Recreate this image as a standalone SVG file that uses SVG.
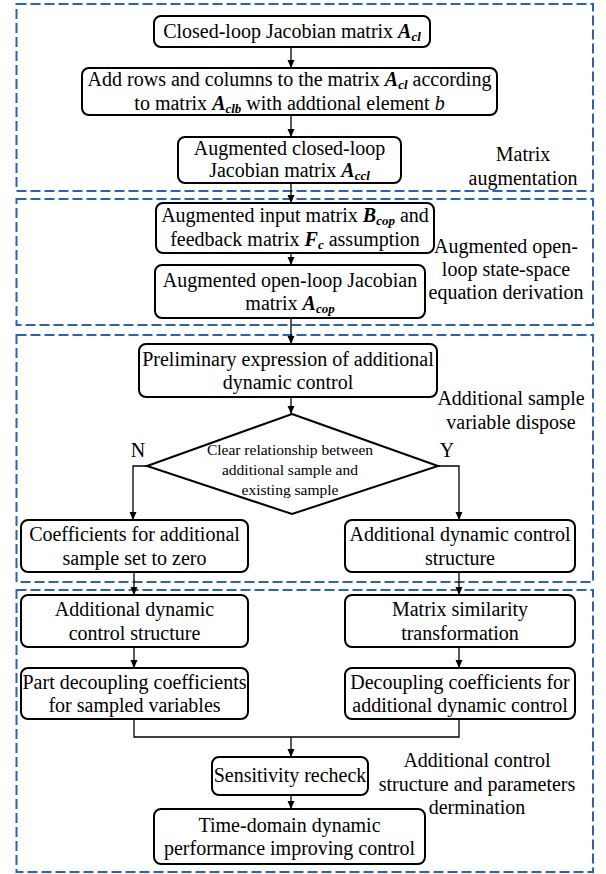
<svg xmlns="http://www.w3.org/2000/svg" width="606" height="874" viewBox="0 0 606 874">
<style>
.grp{fill:none;stroke:#2B62B8;stroke-width:2;stroke-dasharray:10 4}
.nd{fill:#fff;stroke:#000;stroke-width:2}
.t{font-family:"Liberation Serif","Times New Roman",serif;font-size:20px;fill:#000;text-anchor:middle}
.s{font-size:15.5px}
.m{font-weight:bold;font-style:italic}
.sb{font-size:13px;font-style:italic;font-weight:bold}
.c{fill:none;stroke:#000;stroke-width:1.3}
</style>
<defs>
<marker id="ar" markerWidth="8" markerHeight="10" refX="8" refY="5" orient="auto" markerUnits="userSpaceOnUse">
<path d="M0,1.5 L8,5 L0,8.5 Z" fill="#000"/>
</marker>
</defs>
<rect fill="#fff" x="0" y="0" width="606" height="874"/>
<g id="groups">
<rect class="grp" x="16.5" y="4" width="576.5" height="187"/>
<rect class="grp" x="16.5" y="199" width="576.5" height="126"/>
<rect class="grp" x="16.5" y="335" width="576.5" height="247"/>
<rect class="grp" x="16.5" y="590" width="576.5" height="282"/>
</g>
<g id="connectors">
<line class="c" x1="291" y1="47" x2="291" y2="68" marker-end="url(#ar)"/>
<line class="c" x1="291" y1="115" x2="291" y2="137" marker-end="url(#ar)"/>
<line class="c" x1="291" y1="183" x2="291" y2="203" marker-end="url(#ar)"/>
<line class="c" x1="291" y1="253" x2="291" y2="265" marker-end="url(#ar)"/>
<line class="c" x1="291" y1="318" x2="291" y2="344" marker-end="url(#ar)"/>
<line class="c" x1="291" y1="397" x2="291" y2="414" marker-end="url(#ar)"/>
<polyline class="c" points="147,466 133,466 133,520" marker-end="url(#ar)"/>
<polyline class="c" points="438,466 459,466 459,520" marker-end="url(#ar)"/>
<line class="c" x1="134" y1="572" x2="134" y2="595" marker-end="url(#ar)"/>
<line class="c" x1="459" y1="572" x2="459" y2="595" marker-end="url(#ar)"/>
<line class="c" x1="134" y1="647" x2="134" y2="668" marker-end="url(#ar)"/>
<line class="c" x1="459" y1="647" x2="459" y2="668" marker-end="url(#ar)"/>
<polyline class="c" points="134,719 134,737 459,737 459,719"/>
<line class="c" x1="291" y1="737" x2="291" y2="757" marker-end="url(#ar)"/>
<line class="c" x1="291" y1="795" x2="291" y2="809" marker-end="url(#ar)"/>
<text class="t" x="138" y="457">N</text>
<text class="t" x="447" y="457">Y</text>
</g>
<g id="n1">
<rect class="nd" x="154" y="16" width="276" height="31" rx="7"/>
<text class="t" x="292" y="38">Closed-loop Jacobian matrix <tspan class="m">A</tspan><tspan class="sb" dy="3">cl</tspan></text>
</g>
<g id="n2">
<rect class="nd" x="82" y="68" width="415" height="47" rx="7"/>
<text class="t" x="289.5" y="86">Add rows and columns to the matrix <tspan class="m">A</tspan><tspan class="sb" dy="3">cl</tspan><tspan dy="-3"> according</tspan></text>
<text class="t" x="289.5" y="110">to matrix <tspan class="m">A</tspan><tspan class="sb" dy="3">clb</tspan><tspan dy="-3"> with addtional element </tspan><tspan font-style="italic">b</tspan></text>
</g>
<g id="n3">
<rect class="nd" x="178" y="137" width="223" height="46" rx="7"/>
<text class="t" x="289.5" y="155">Augmented closed-loop</text>
<text class="t" x="289.5" y="177">Jacobian matrix <tspan class="m">A</tspan><tspan class="sb" dy="3">ccl</tspan></text>
</g>
<g id="lab1">
<text class="t" x="523" y="161">Matrix</text>
<text class="t" x="523" y="185">augmentation</text>
</g>
<g id="n4">
<rect class="nd" x="156" y="203" width="278" height="50" rx="7"/>
<text class="t" x="295" y="222">Augmented input matrix <tspan class="m">B</tspan><tspan class="sb" dy="3">cop</tspan><tspan dy="-3"> and</tspan></text>
<text class="t" x="295" y="246">feedback matrix <tspan class="m">F</tspan><tspan class="sb" dy="3">c</tspan><tspan dy="-3"> assumption</tspan></text>
</g>
<g id="n5">
<rect class="nd" x="155" y="265" width="270" height="53" rx="7"/>
<text class="t" x="290" y="287">Augmented open-loop Jacobian</text>
<text class="t" x="290" y="310">matrix <tspan class="m">A</tspan><tspan class="sb" dy="3">cop</tspan></text>
</g>
<g id="lab2">
<text class="t" x="506" y="253">Augmented open-</text>
<text class="t" x="506" y="276">loop state-space</text>
<text class="t" x="506" y="299">equation derivation</text>
</g>
<g id="n6">
<rect class="nd" x="139" y="344" width="298" height="53" rx="7"/>
<text class="t" x="288" y="366">Preliminary expression of additional</text>
<text class="t" x="288" y="389">dynamic control</text>
</g>
<g id="lab3">
<text class="t" x="511" y="405">Additional sample</text>
<text class="t" x="511" y="429">variable dispose</text>
</g>
<g id="d1">
<polygon class="nd" points="292,414 438,466 292,514 147,466"/>
<text class="t s" x="290" y="455">Clear relationship between</text>
<text class="t s" x="290" y="475">additional sample and</text>
<text class="t s" x="290" y="495">existing sample</text>
</g>
<g id="n7">
<rect class="nd" x="21" y="520" width="227" height="52" rx="7"/>
<text class="t" x="134.5" y="541">Coefficients for additional</text>
<text class="t" x="134.5" y="565">sample set to zero</text>
</g>
<g id="n8">
<rect class="nd" x="345" y="520" width="230" height="52" rx="7"/>
<text class="t" x="460" y="541">Additional dynamic control</text>
<text class="t" x="460" y="565">structure</text>
</g>
<g id="n9">
<rect class="nd" x="21" y="595" width="227" height="52" rx="7"/>
<text class="t" x="134.5" y="616">Additional dynamic</text>
<text class="t" x="134.5" y="640">control structure</text>
</g>
<g id="n10">
<rect class="nd" x="345" y="595" width="230" height="52" rx="7"/>
<text class="t" x="460" y="616">Matrix similarity</text>
<text class="t" x="460" y="640">transformation</text>
</g>
<g id="n11">
<rect class="nd" x="21" y="668" width="227" height="51" rx="7"/>
<text class="t" x="134.5" y="689">Part decoupling coefficients</text>
<text class="t" x="134.5" y="712">for sampled variables</text>
</g>
<g id="n12">
<rect class="nd" x="345" y="668" width="230" height="51" rx="7"/>
<text class="t" x="460" y="689">Decoupling coefficients for</text>
<text class="t" x="460" y="712">additional dynamic control</text>
</g>
<g id="n13">
<rect class="nd" x="212" y="757" width="156" height="38" rx="7"/>
<text class="t" x="290" y="782">Sensitivity recheck</text>
</g>
<g id="lab4">
<text class="t" x="477" y="767">Additional control</text>
<text class="t" x="477" y="791">structure and parameters</text>
<text class="t" x="477" y="814">dermination</text>
</g>
<g id="n14">
<rect class="nd" x="154" y="809" width="271" height="55" rx="7"/>
<text class="t" x="289.5" y="832">Time-domain dynamic</text>
<text class="t" x="289.5" y="855">performance improving control</text>
</g>
</svg>
